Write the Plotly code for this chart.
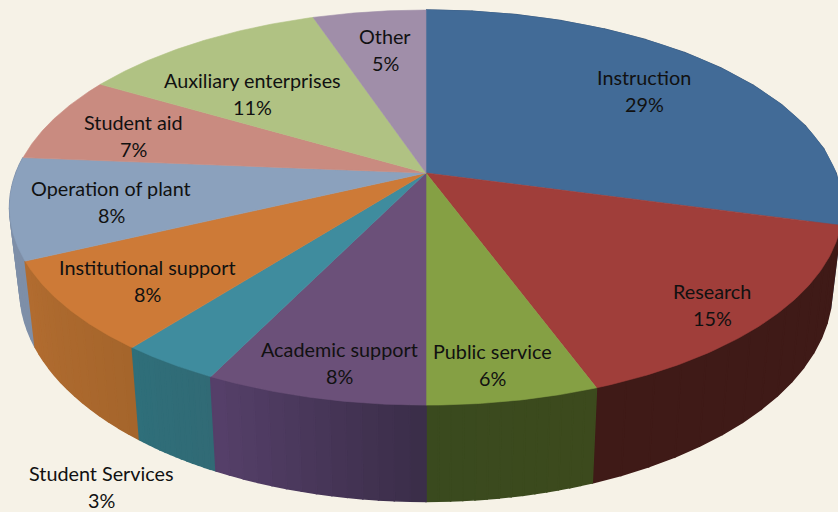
import numpy as np
import plotly.graph_objects as go

categories = ["Instruction", "Research", "Public service", "Academic support", "Student Services",
              "Institutional support", "Operation of plant", "Student aid", "Auxiliary enterprises", "Other"]
values = [29.2, 15.15, 5.65, 7.3, 3.3, 7.4, 8.3, 7.1, 11.4, 5.2]
# percentages as printed on the chart
percent_labels = ["29%", "15%", "6%", "8%", "3%", "8%", "8%", "7%", "11%", "5%"]

top_colors = ["#426b97", "#a03e3a", "#85a044", "#6b5079", "#3f8c9e",
              "#cd7a37", "#8ba1bd", "#c98b80", "#b0c283", "#a08ea9"]
wall_left = ["#3d5a7d", "#3f1a17", "#3c4a1d", "#3a2d48", "#316a75",
             "#a5652b", "#7e8fa8", "#a07068", "#8c9a68", "#7f7187"]
wall_right = ["#3d5a7d", "#3f1a17", "#3a4a1e", "#56406a", "#2f6f7a",
              "#b16c30", "#7e8fa8", "#a07068", "#8c9a68", "#7f7187"]
label_pos = [(644, 77), (712, 291), (492, 351), (339, 349), (101, 473),
             (147, 267), (111, 188), (133, 122), (252, 80), (385, 36)]
CX, CY, A, B, K = 426, 173, 410, 191.5, 0.175
BG = "#f6f2e7"


def project(theta):
    u, v = np.sin(theta), np.cos(theta)
    d = 1 + K * v
    return CX + A * u / d, CY - B * v / d


def drop(x, y):
    return CX + (x - CX) * 0.975, y + 80 + (y - CY) * 0.07


def hex2rgb(h):
    return np.array([int(h[i:i + 2], 16) for i in (1, 3, 5)], float)


edges = np.cumsum([0] + values) / sum(values) * 2 * np.pi
fig = go.Figure()


def poly(xs, ys, color, width=0.6):
    fig.add_trace(go.Scatter(x=list(xs), y=list(ys), mode="lines", fill="toself", fillcolor=color,
                             line=dict(color=color, width=width), hoverinfo="skip", showlegend=False))


# side wall, drawn from the sides towards the front
order = [0, 6, 1, 5, 2, 4, 3]
for i in order:
    n = 14
    th = np.linspace(edges[i], edges[i + 1], n + 1)
    c0, c1 = hex2rgb(wall_left[i]), hex2rgb(wall_right[i])
    for j in range(n):
        x, y = project(th[j:j + 2])
        xb, yb = drop(x, y)
        f = (j + 0.5) / n
        c = c0 + (c1 - c0) * f
        poly(np.r_[x, xb[::-1], x[0]], np.r_[y, yb[::-1], y[0]],
             f"rgb({c[0]:.0f},{c[1]:.0f},{c[2]:.0f})", width=1.6)

# top face
for i in range(len(values)):
    th = np.linspace(edges[i], edges[i + 1], 80)
    x, y = project(th)
    poly(np.r_[CX, x, CX], np.r_[CY, y, CY], top_colors[i])

for name, pct, (lx, ly) in zip(categories, percent_labels, label_pos):
    for txt, yy in ((name, ly), (pct, ly + 27)):
        fig.add_annotation(x=lx, y=yy, text=txt, showarrow=False, xanchor="center", yanchor="middle",
                           font=dict(family="Lato", size=19.8, color="#111111"))

fig.update_layout(width=838, height=512, margin=dict(l=0, r=0, t=0, b=0),
                  paper_bgcolor=BG, plot_bgcolor=BG, showlegend=False,
                  xaxis=dict(range=[0, 838], visible=False, fixedrange=True),
                  yaxis=dict(range=[512, 0], visible=False, fixedrange=True))
fig.write_html("out.html", config=dict(displayModeBar=False),
               post_script="document.body.style.margin='0';document.body.style.background='#f6f2e7';"
                           "document.body.style.overflow='hidden';")
